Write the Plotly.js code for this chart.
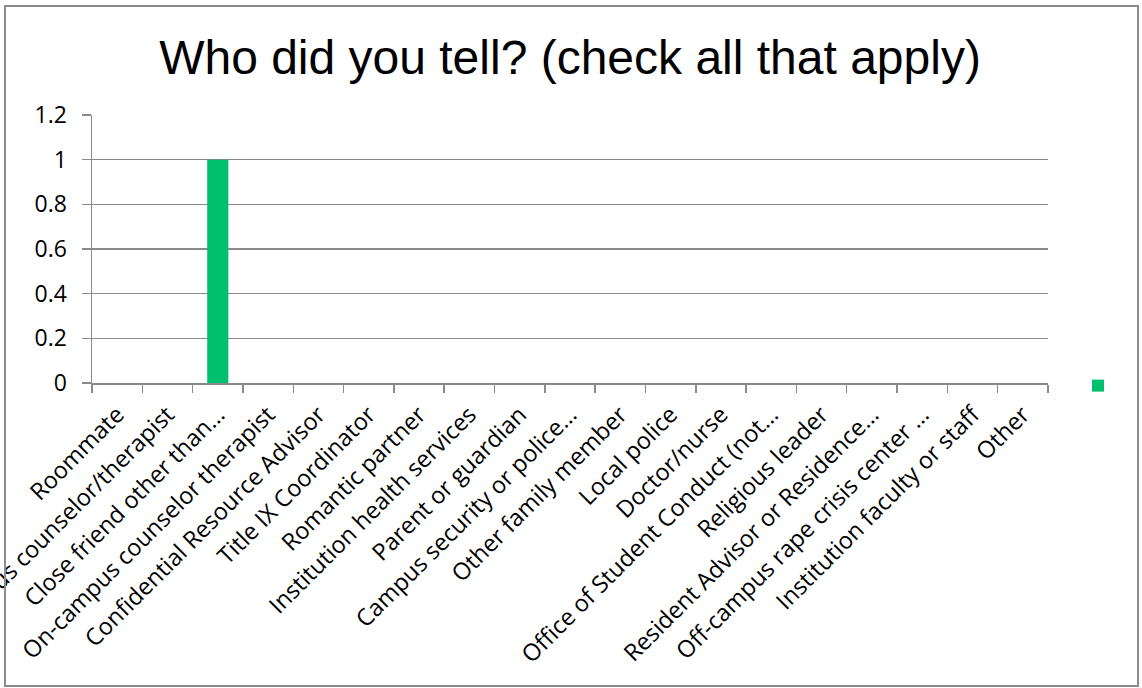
<!DOCTYPE html>
<html>
<head>
<meta charset="utf-8">
<script src="https://cdn.plot.ly/plotly-3.0.1.min.js"></script>
<style>
html,body{margin:0;padding:0;background:#fff;}
#chart{width:1142px;height:688px;}
</style>
</head>
<body>
<div id="chart"></div>
<script>
var categories = [
  "Roommate",
  "Off-campus counselor/therapist",
  "Close friend other than\u2026",
  "On-campus counselor therapist",
  "Confidential Resource Advisor",
  "Title IX Coordinator",
  "Romantic partner",
  "Institution health services",
  "Parent or guardian",
  "Campus security or police\u2026",
  "Other family member",
  "Local police",
  "Doctor/nurse",
  "Office of Student Conduct (not\u2026",
  "Religious leader",
  "Resident Advisor or Residence\u2026",
  "Off-campus rape crisis center \u2026",
  "Institution faculty or staff",
  "Other"
];
var values = [0, 0, 1, 0, 0, 0, 0, 0, 0, 0, 0, 0, 0, 0, 0, 0, 0, 0, 0];
var titleText = "Who did you tell? (check all that apply)";

var L = 92, R = 1048, T = 115, B = 383, W = 1142, H = 688;
var pw = R - L, ph = B - T;
function px(x){ return (x - L) / pw; }
function py(y){ return (B - y) / ph; }

var trace = {
  type: "bar",
  x: categories,
  y: values,
  name: " ",
  marker: {color: "#00BF6F"},
  width: 0.42,
  showlegend: true,
  hoverinfo: "x+y"
};

var layout = {
  width: W, height: H,
  margin: {l: L, r: W - R, t: T, b: H - B, pad: 0},
  paper_bgcolor: "#ffffff",
  plot_bgcolor: "#ffffff",
  font: {family: "Open Sans, sans-serif", color: "#000000"},
  title: {
    text: titleText,
    font: {family: "Liberation Sans, Arial, sans-serif", size: 48, color: "#000000"},
    x: 0.5, xref: "paper", xanchor: "center",
    y: 1 - 57 / H, yref: "container", yanchor: "middle"
  },
  xaxis: {
    type: "category",
    tickangle: -45,
    tickson: "boundaries",
    ticks: "outside", ticklen: 8, tickcolor: "#8a8a8a", tickwidth: 1.5,
    showline: true, linecolor: "#8a8a8a", linewidth: 1.5,
    showgrid: false,
    ticklabelstandoff: 7,
    tickfont: {family: "Open Sans, sans-serif", size: 23.5, color: "#000000"},
    fixedrange: true
  },
  yaxis: {
    range: [0, 1.2],
    dtick: 0.2, tick0: 0,
    ticks: "outside", ticklen: 9, tickcolor: "#8a8a8a", tickwidth: 1.5,
    showline: true, linecolor: "#8a8a8a", linewidth: 1.5,
    showgrid: true, gridcolor: "#8a8a8a", gridwidth: 1.5,
    zeroline: false,
    ticklabelstandoff: 10,
    tickfont: {family: "Open Sans, sans-serif", size: 23, color: "#000000"},
    fixedrange: true
  },
  showlegend: true,
  legend: {
    x: px(1078), y: py(386), xanchor: "left", yanchor: "middle",
    bgcolor: "rgba(0,0,0,0)", borderwidth: 0,
    font: {size: 14}
  },
  shapes: [{
    type: "rect", xref: "paper", yref: "paper",
    x0: px(5), x1: px(1138), y0: py(686), y1: py(6),
    line: {color: "#8c8c8c", width: 2}, fillcolor: "rgba(0,0,0,0)", layer: "above"
  }]
};

Plotly.newPlot("chart", [trace], layout, {displayModeBar: false, staticPlot: true});
</script>
</body>
</html>
